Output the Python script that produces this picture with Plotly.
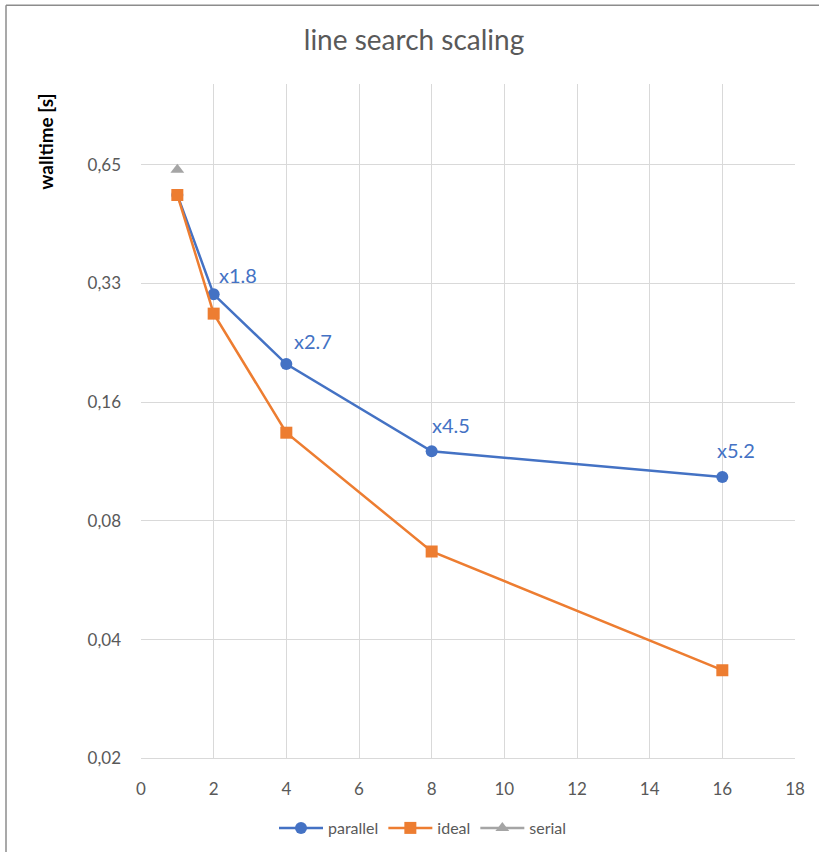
import math
import plotly.graph_objects as go

threads = [1, 2, 4, 8, 16]
parallel = [0.545, 0.305, 0.203, 0.122, 0.105]
ideal = [0.545, 0.2725, 0.136, 0.068, 0.034]
serial_x = [1]
serial = [0.631]
speedup_labels = ["x1.8", "x2.7", "x4.5", "x5.2"]
ytick_vals = [0.0203125, 0.040625, 0.08125, 0.1625, 0.325, 0.65]
ytick_text = ["0,02", "0,04", "0,08", "0,16", "0,33", "0,65"]

BLUE = "#4472C4"
ORANGE = "#ED7D31"
GRAY = "#A5A5A5"
TXT = "#595959"
FONT = "Lato, 'Open Sans', sans-serif"

fig = go.Figure()
fig.add_trace(go.Scatter(x=threads, y=parallel, name="parallel", mode="lines+markers",
                         line=dict(color=BLUE, width=2.5),
                         marker=dict(symbol="circle", size=12, color=BLUE)))
fig.add_trace(go.Scatter(x=threads, y=ideal, name="ideal", mode="lines+markers",
                         line=dict(color=ORANGE, width=2.5),
                         marker=dict(symbol="square", size=12, color=ORANGE)))
fig.add_trace(go.Scatter(x=serial_x, y=serial, name="serial", mode="lines+markers",
                         line=dict(color=GRAY, width=2.5),
                         marker=dict(symbol="triangle-up", size=12, color=GRAY)))

offsets = [(24, -19), (27, -23), (19, -26), (14, -27)]
for (xv, yv, lab, (dx, dy)) in zip(threads[1:], parallel[1:], speedup_labels, offsets):
    fig.add_annotation(x=xv, y=math.log10(yv), text=lab, showarrow=False,
                       xanchor="center", yanchor="middle",
                       xshift=dx, yshift=-dy, font=dict(color=BLUE, size=20, family=FONT))

ymax = 0.65 * 2 ** (81 / 119.2)
fig.update_layout(
    width=819, height=855,
    margin=dict(l=141, r=24, t=84, b=94),
    paper_bgcolor="white", plot_bgcolor="white",
    font=dict(family=FONT, color=TXT, size=14),
    title=dict(text="line search scaling", x=414 / 819, xref="container", xanchor="center",
               y=1 - 40 / 855, yref="container", yanchor="middle",
               font=dict(size=28, color=TXT, family=FONT)),
    showlegend=True,
    legend=dict(orientation="h", x=423 / 819, xanchor="center", xref="container",
                y=(855 - 828) / 855, yref="container", yanchor="middle",
                font=dict(size=16, color=TXT), itemwidth=44, tracegroupgap=0),
    xaxis=dict(range=[0, 18], dtick=2, tick0=0, showgrid=True, gridcolor="#D9D9D9", gridwidth=1.3,
               zeroline=False, showline=True, linecolor="#D9D9D9", linewidth=1.3,
               ticks="", ticklabelstandoff=15, tickfont=dict(size=17, color=TXT)),
    yaxis=dict(type="log", range=[math.log10(ytick_vals[0]), math.log10(ymax)],
               tickvals=ytick_vals, ticktext=ytick_text, showgrid=True, gridcolor="#D9D9D9",
               gridwidth=1.3, zeroline=False, showline=False, ticks="", ticklabelstandoff=19,
               tickfont=dict(size=17, color=TXT)),
)

fig.add_annotation(xref="paper", yref="paper", x=(46 - 141) / 654, y=1 - (142 - 84) / 677,
                   xanchor="center", yanchor="middle",
                   text="<b>walltime [s]</b>", textangle=-90, showarrow=False,
                   font=dict(size=19, color="black", family=FONT))

fig.add_shape(type="line", xref="paper", yref="paper",
              x0=(6 - 141) / 654, x1=(819 - 141) / 654, y0=1 + (84 - 5) / 677, y1=1 + (84 - 5) / 677,
              line=dict(color="#8C8C8C", width=1.5))
fig.add_shape(type="line", xref="paper", yref="paper",
              x0=(6 - 141) / 654, x1=(6 - 141) / 654, y0=1 + (84 - 5) / 677, y1=-(855 - 761) / 677,
              line=dict(color="#8C8C8C", width=1.5))

fig.write_html("out.html")
